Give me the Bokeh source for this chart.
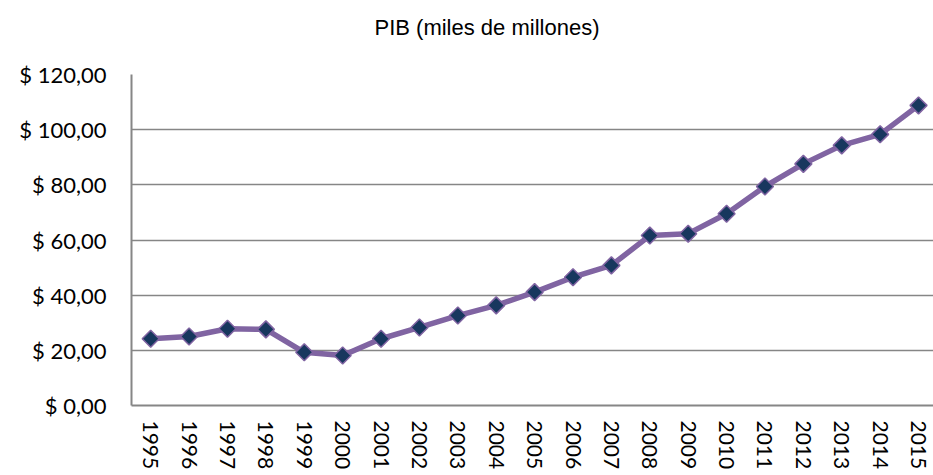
import math
from bokeh.plotting import figure
from bokeh.models import Range1d, FixedTicker, ColumnDataSource, Title
from bokeh.embed import file_html
from bokeh.resources import INLINE

# ---- data ----
years = [1995, 1996, 1997, 1998, 1999, 2000, 2001, 2002, 2003, 2004, 2005,
         2006, 2007, 2008, 2009, 2010, 2011, 2012, 2013, 2014, 2015]
pib = [24.2, 25.0, 27.8, 27.6, 19.3, 18.1, 24.2, 28.3, 32.6, 36.3, 41.1,
       46.5, 50.8, 61.6, 62.3, 69.5, 79.4, 87.6, 94.3, 98.3, 108.8]
year_labels = [str(y) for y in years]
y_ticks = [0, 20, 40, 60, 80, 100, 120]
y_tick_labels = ["$ 0,00", "$ 20,00", "$ 40,00", "$ 60,00", "$ 80,00",
                 "$ 100,00", "$ 120,00"]
title_text = "PIB (miles de millones)"

GRAY = "#868686"
LINE = "#8064A2"
FILL = "#17375E"

src = ColumnDataSource(data=dict(x=years, y=pib))

p = figure(width=933, height=475, output_backend="svg", toolbar_location=None,
           x_range=Range1d(years[0] - 0.5, years[-1] + 0.39),
           y_range=Range1d(y_ticks[0], y_ticks[-1]),
           min_border_left=131, min_border_right=0,
           min_border_top=74, min_border_bottom=70,
           background_fill_color="white", border_fill_color="white")
p.outline_line_color = None
p.title = None

# spacer (closest to the frame) then the real title above it
p.add_layout(Title(text=" ", text_font_size="10px", standoff=22), "above")
p.add_layout(Title(text=title_text, text_font="Liberation Sans",
                   text_font_size="22px", text_font_style="normal",
                   text_color="black", align="left", offset=243, standoff=0),
             "above")

# axes
p.xaxis.ticker = FixedTicker(ticks=years)
p.xaxis.major_label_overrides = {y: l for y, l in zip(years, year_labels)}
p.xaxis.major_label_orientation = "vertical"
p.xaxis.major_label_text_font = "Lato"
p.xaxis.major_label_text_font_size = "21px"
p.xaxis.major_label_text_color = "black"
p.xaxis.major_label_standoff = 15
p.xaxis.major_tick_out = 0
p.xaxis.major_tick_in = 0
p.xaxis.minor_tick_out = 0
p.xaxis.minor_tick_in = 0
p.xaxis.axis_line_color = GRAY
p.xaxis.axis_line_width = 2

p.yaxis.ticker = FixedTicker(ticks=y_ticks)
p.yaxis.major_label_overrides = {t: l for t, l in zip(y_ticks, y_tick_labels)}
p.yaxis.major_label_text_font = "Lato"
p.yaxis.major_label_text_font_size = "22px"
p.yaxis.major_label_text_color = "black"
p.yaxis.major_label_standoff = 25
p.yaxis.major_tick_out = 0
p.yaxis.major_tick_in = 0
p.yaxis.minor_tick_out = 0
p.yaxis.minor_tick_in = 0
p.yaxis.axis_line_color = GRAY
p.yaxis.axis_line_width = 2

p.xgrid.visible = False
p.ygrid.ticker = FixedTicker(ticks=y_ticks)
p.ygrid.grid_line_color = GRAY
p.ygrid.grid_line_width = 1.5

p.line("x", "y", source=src, line_color=LINE, line_width=5.5)
p.scatter("x", "y", source=src, marker="square", size=12, angle=math.pi / 4,
          fill_color=FILL, line_color=LINE, line_width=1.5)

open("out.html", "w").write(file_html(p, INLINE))
